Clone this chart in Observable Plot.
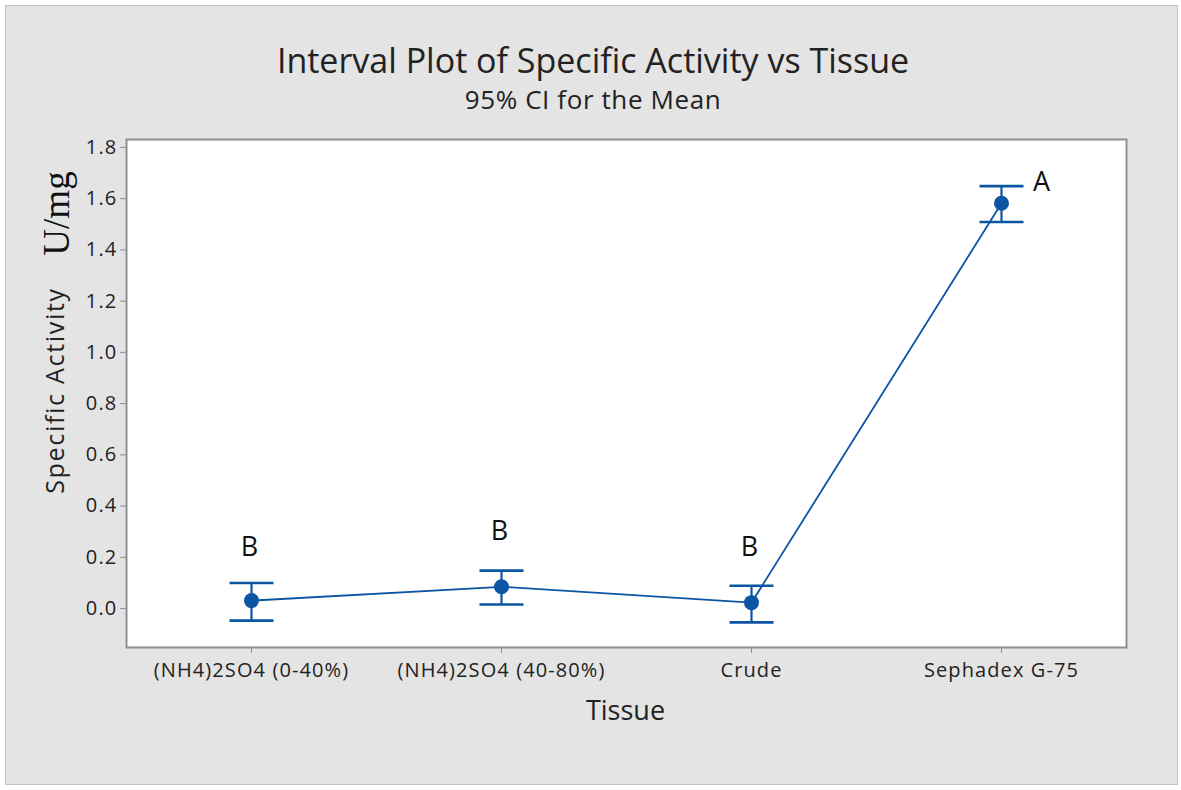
<!DOCTYPE html>
<html>
<head>
<meta charset="utf-8">
<script src="https://cdn.jsdelivr.net/npm/d3@7"></script>
<script src="https://cdn.jsdelivr.net/npm/@observablehq/plot@0.6"></script>
<style>
  html, body { margin: 0; padding: 0; background: #ffffff; }
  body { width: 1181px; height: 790px; position: relative; overflow: hidden; font-family: "Open Sans", "Noto Sans", sans-serif; }
  #panel { position: absolute; left: 5px; top: 5px; width: 1171px; height: 778px; background: #e4e4e4; border: 1px solid #c4c4c4; }
  #chart { position: absolute; left: 0; top: 0; }
  .ttl { position: absolute; left: 0; width: 1186px; text-align: center; color: #222; white-space: nowrap; }
  #title { top: 37px; font-size: 34px; }
  #subtitle { top: 81px; font-size: 26px; letter-spacing: 0.6px; }
  g[aria-label="x-axis tick label"] text { letter-spacing: 1.1px; }
  g[aria-label="y-axis tick label"] text { letter-spacing: 1.2px; }
</style>
</head>
<body>
<div id="panel"></div>
<div id="chart"></div>
<div id="title" class="ttl">Interval Plot of Specific Activity vs Tissue</div>
<div id="subtitle" class="ttl">95% CI for the Mean</div>
<script>
// ---- data ----
const tissues = ["(NH4)2SO4 (0-40%)", "(NH4)2SO4 (40-80%)", "Crude", "Sephadex G-75"];
const means   = [0.031, 0.085, 0.023, 1.582];
const lower   = [-0.047, 0.016, -0.054, 1.509];
const upper   = [0.100, 0.148, 0.089, 1.649];
const groupLetters = ["B", "B", "B", "A"];
const letterY = [0.237, 0.303, 0.237, 1.664];
const yTicks = [0.0, 0.2, 0.4, 0.6, 0.8, 1.0, 1.2, 1.4, 1.6, 1.8];

const rows = tissues.map((t, i) => ({
  tissue: t, mean: means[i], lo: lower[i], hi: upper[i], letter: groupLetters[i], ly: letterY[i]
}));

const blue = "#0b55a3";
const capSymbol = {
  draw(ctx, size) {
    const w = Math.sqrt(size / Math.PI);
    ctx.moveTo(-w, 0);
    ctx.lineTo(w, 0);
  }
};

const plot = Plot.plot({
  width: 1181,
  height: 790,
  marginLeft: 126,
  marginRight: 55,
  marginTop: 139,
  marginBottom: 143,
  style: { background: "transparent", fontFamily: "'Open Sans', 'Noto Sans', sans-serif", color: "#222" },
  x: { type: "point", domain: tissues, padding: 0.5 },
  y: { domain: [-0.152, 1.831] },
  marks: [
    Plot.frame({ fill: "white", stroke: "#8f8f8f", strokeWidth: 2 }),
    Plot.axisX({ tickSize: 6, tickPadding: 9, fontSize: 20, label: null, stroke: "#8f8f8f", color: "#222" }),
    Plot.axisY({ ticks: yTicks, tickFormat: d => d.toFixed(1), tickSize: 6, tickPadding: 3, fontSize: 20, label: null, stroke: "#8f8f8f" }),
    Plot.line(rows, { x: "tissue", y: "mean", stroke: blue, strokeWidth: 1.8 }),
    Plot.ruleX(rows, { x: "tissue", y1: "lo", y2: "hi", stroke: blue, strokeWidth: 2.2 }),
    Plot.dot(rows, { x: "tissue", y: "hi", symbol: capSymbol, r: 22, stroke: blue, strokeWidth: 2.6, fill: "none" }),
    Plot.dot(rows, { x: "tissue", y: "lo", symbol: capSymbol, r: 22, stroke: blue, strokeWidth: 2.6, fill: "none" }),
    Plot.dot(rows, { x: "tissue", y: "mean", r: 7.5, fill: blue, stroke: "none" }),
    Plot.text(rows.filter(d => d.letter === "B"), { x: "tissue", y: "ly", text: "letter", fontSize: 27, dx: -2, fill: "#111" }),
    Plot.text(rows.filter(d => d.letter === "A"), { x: "tissue", y: "ly", text: "letter", fontSize: 27, dx: 40, fill: "#111" }),
    Plot.text(["Specific Activity"], { frameAnchor: "left", textAnchor: "middle", dx: -71, dy: -3, rotate: -90, fontSize: 25, fill: "#222", text: d => d }),
    Plot.text(["U/mg"], { frameAnchor: "top-left", textAnchor: "middle", dx: -84, dy: 74, rotate: -90, fontSize: 37, fontFamily: "'Liberation Serif', 'DejaVu Serif', serif", fill: "#111", text: d => d }),
    Plot.text(["Tissue"], { frameAnchor: "bottom", dx: -1, dy: 72, fontSize: 27, fill: "#222", text: d => d })
  ]
});
d3.select(plot).selectAll("text")
  .filter(function () { return this.textContent === "Specific Activity"; })
  .style("letter-spacing", "1.7px");
document.getElementById("chart").appendChild(plot);
</script>
</body>
</html>
